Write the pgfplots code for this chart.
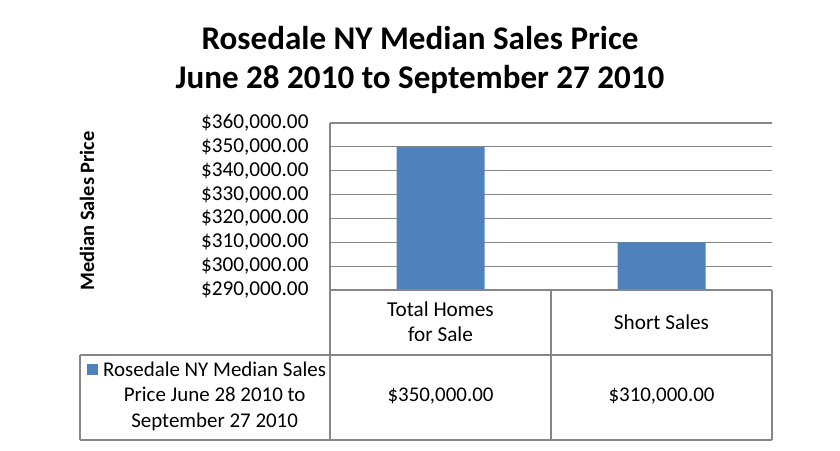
\documentclass[border=0pt]{standalone}
\usepackage{pgfplots}
\pgfplotsset{compat=1.18}
\usepackage{fontspec}
\setmainfont{Carlito}

\definecolor{barblue}{HTML}{4F81BD}
\definecolor{tablegray}{HTML}{868686}

\begin{document}
\begin{tikzpicture}[x=1bp,y=1bp]
  \useasboundingbox (0,0) rectangle (840,451);
  % title
  \node[anchor=base, font=\fontsize{33.2}{38}\selectfont\bfseries, inner sep=0pt]
    at (420,401) {Rosedale NY Median Sales Price};
  \node[anchor=base, font=\fontsize{33.2}{38}\selectfont\bfseries, inner sep=0pt]
    at (420,362) {June 28 2010 to September 27 2010};

  \begin{axis}[
      at={(330bp,161bp)}, anchor=south west,
      scale only axis,
      width=442bp, height=167bp,
      xmin=-0.5, xmax=1.5,
      ymin=290000, ymax=360000,
      ytick distance=10000,
      scaled y ticks=false,
      xtick={0,1},
      xticklabels={{Total Homes\\for Sale},{Short Sales}},
      xtick pos=bottom, ytick pos=left,
      major tick length=0pt,
      axis line style={draw=none},
      ymajorgrids=true,
      grid style={tablegray, line width=1.2bp},
      bar width=88bp,
      clip=false,
      font=\fontsize{21.3}{25.5}\selectfont,
      /pgf/number format/assume math mode=true,
      yticklabel={\$\pgfmathprintnumber[fixed, fixed zerofill, precision=2, 1000 sep={,}]{\tick}},
      yticklabel style={anchor=east, xshift=-18bp},
      xticklabel style={anchor=center, align=center, yshift=-32bp},
      ylabel={Median Sales Price},
      ylabel style={font=\fontsize{20.5}{24}\selectfont\bfseries,
        at={(axis description cs:-0.5498,0.473)}, anchor=center},
      legend style={draw=none, fill=none, at={(axis description cs:-0.5565,-0.411)}, anchor=north west,
        nodes={align=center, font=\fontsize{21}{25.5}\selectfont, inner sep=1bp},
        /tikz/every odd column/.append style={column sep=4bp}},
      legend image code/.code={\fill[barblue] (0bp,20bp) rectangle (11bp,31bp);},
  ]
  \addplot[ybar, fill=barblue, draw=none] coordinates {(0,350000) (1,310000)};
  \addlegendentry{Rosedale NY Median Sales\\Price June 28 2010 to\\September 27 2010}
  % values shown in the data table row
  \addplot[draw=none, mark=none, forget plot, point meta=explicit,
    nodes near coords={\$\pgfmathprintnumber[fixed, fixed zerofill, precision=2, 1000 sep={,}]{\pgfplotspointmeta}},
    nodes near coords style={anchor=center, yshift=-106bp, font=\fontsize{21}{25.5}\selectfont}]
    coordinates {(0,290000) [350000] (1,290000) [310000]};
  \end{axis}

  % data table lines
  \begin{scope}[draw=tablegray, line width=1.2bp]
    \draw (330,451-123) -- (330,451-440);
    \draw (551,451-290) -- (551,451-440);
    \draw (772,451-290) -- (772,451-440);
    \draw (80,451-355) -- (80,451-440);
    \draw (330,451-290) -- (772,451-290);
    \draw (80,451-355) -- (772,451-355);
    \draw (80,451-440) -- (772,451-440);
  \end{scope}
\end{tikzpicture}
\end{document}
